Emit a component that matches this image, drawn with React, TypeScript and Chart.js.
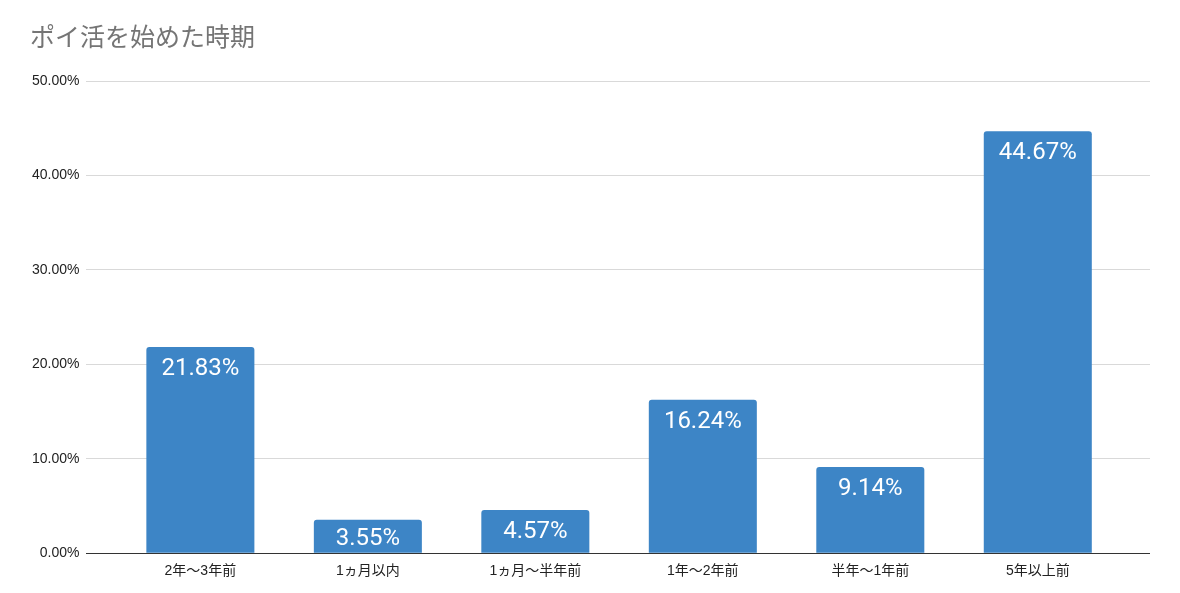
import React, { useEffect, useRef } from "react";
import { Chart, registerables } from "chart.js";

Chart.register(...registerables);

const title = "ポイ活を始めた時期";
const categories = ["2年〜3年前", "1ヵ月以内", "1ヵ月〜半年前", "1年〜2年前", "半年〜1年前", "5年以上前"];
const values = [21.83, 3.55, 4.57, 16.24, 9.14, 44.67];
const yTicks = [0, 10, 20, 30, 40, 50];

const dataLabels = {
  id: "dataLabels",
  afterDatasetsDraw(chart: any) {
    const ctx = chart.ctx;
    const meta = chart.getDatasetMeta(0);
    ctx.save();
    ctx.fillStyle = "#ffffff";
    ctx.font = "24px Roboto, 'Noto Sans', sans-serif";
    ctx.textAlign = "center";
    ctx.textBaseline = "middle";
    meta.data.forEach((bar: any, i: number) => {
      const y = Math.min(bar.y + 22, bar.base - 14);
      ctx.fillText(values[i].toFixed(2) + "%", bar.x, y);
    });
    ctx.restore();
  },
};

const titlePlugin = {
  id: "leftTitle",
  afterDraw(chart: any) {
    const ctx = chart.ctx;
    ctx.save();
    ctx.fillStyle = "#757575";
    ctx.font = "25px Roboto, 'Noto Sans CJK JP', sans-serif";
    ctx.textAlign = "left";
    ctx.textBaseline = "middle";
    ctx.fillText(title, 22, 32);
    ctx.restore();
  },
};

export default function App() {
  const ref = useRef<HTMLCanvasElement>(null);
  useEffect(() => {
    if (!ref.current) return;
    const chart = new Chart(ref.current, {
      type: "bar",
      data: {
        datasets: [
          {
            data: values.map((v, i) => ({ x: i, y: v })),
            backgroundColor: "#3d85c6",
            borderRadius: { topLeft: 3, topRight: 3, bottomLeft: 0, bottomRight: 0 },
            borderSkipped: "bottom",
            barPercentage: 0.645,
            categoryPercentage: 1,
          },
        ],
      },
      options: {
        animation: false,
        responsive: true,
        maintainAspectRatio: false,
        layout: { padding: { left: 17, right: 22, top: 73, bottom: 3 } },
        plugins: {
          legend: { display: false },
          tooltip: { enabled: false },
          title: { display: false },
        },
        scales: {
          x: {
            type: "linear",
            offset: false,
            min: -0.68,
            max: 5.67,
            afterBuildTicks: (axis: any) => {
              axis.ticks = categories.map((_, i) => ({ value: i }));
            },
            ticks: {
              callback: (v: any) => categories[v as number] ?? "",
              color: "#222222",
              font: { size: 14, family: "Arial, 'Liberation Sans', 'Noto Sans CJK JP', sans-serif" },
              maxRotation: 0,
              autoSkip: false,
              padding: 2,
            },
            grid: { display: false },
            border: { display: false },
          },
          y: {
            min: 0,
            max: 50,
            afterBuildTicks: (axis: any) => {
              axis.ticks = yTicks.map((v) => ({ value: v }));
            },
            ticks: {
              callback: (v: any) => Number(v).toFixed(2) + "%",
              color: "#222222",
              font: { size: 14, family: "Arial, 'Liberation Sans', sans-serif" },
              padding: 7,
            },
            grid: {
              color: (c: any) => (c.tick && c.tick.value === 0 ? "#333333" : "#d9d9d9"),
              lineWidth: 1,
              drawTicks: false,
            },
            border: { display: false },
          },
        },
      },
      plugins: [dataLabels, titlePlugin],
    });
    return () => chart.destroy();
  }, []);
  return (
    <div style={{ width: 1164, height: 577, position: "relative" }}>
      <canvas ref={ref} />
    </div>
  );
}
